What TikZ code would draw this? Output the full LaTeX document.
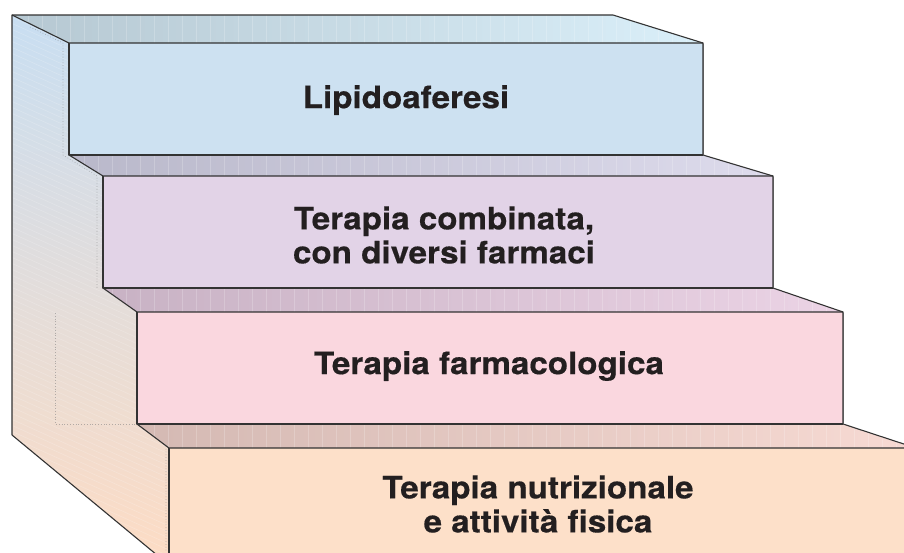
\documentclass[tikz,border=0pt]{standalone}
\usepackage{fontspec}
\newfontfamily\labfont{TeX Gyre Heros}[FakeStretch=1.07,FakeBold=0.4]
\definecolor{sideA}{HTML}{C8DEF2}
\definecolor{sideB}{HTML}{F1CFDE}
\definecolor{sideC}{HTML}{FDDCC4}
\definecolor{topAl}{HTML}{B6C8D2}
\definecolor{topAr}{HTML}{DAEFF9}
\definecolor{topBl}{HTML}{B9B8CA}
\definecolor{topBr}{HTML}{DDDBEC}
\definecolor{topCl}{HTML}{C8B2C4}
\definecolor{topCr}{HTML}{EBD3E5}
\definecolor{topDl}{HTML}{D4B9B3}
\definecolor{topDr}{HTML}{F7DAD3}
\definecolor{frA}{HTML}{CDE1F1}
\definecolor{frB}{HTML}{E2D3E7}
\definecolor{frC}{HTML}{FAD7DF}
\definecolor{frD}{HTML}{FDE0C9}
\definecolor{edge}{HTML}{333333}
\definecolor{txt}{HTML}{231F20}
\begin{document}
\begin{tikzpicture}[x=1pt,y=-1pt,line join=round,
  edgeline/.style={draw=edge,line width=1.1pt},
  stripe/.style={white,opacity=0.2,line width=0.6pt},
  hidden/.style={gray,opacity=0.55,line width=0.6pt,dash pattern=on 0.8pt off 2pt},
  lab/.style={font=\labfont\bfseries\fontsize{31}{34}\selectfont,text=txt,align=center,inner sep=0pt}]
\useasboundingbox (0,0) rectangle (904,552);
\clip (0,0) rectangle (904,552);
% side panel
\def\sidepath{(12,15) -- (69,43) -- (69,155) -- (103,176) -- (103,288) -- (137,312) -- (137,424) -- (169,448) -- (169,560) -- (163,560) -- (12,435) -- cycle}
\shade[top color=sideA, middle color=sideB, bottom color=sideC] \sidepath;
\begin{scope}
  \clip \sidepath;
  \foreach \i in {-20,...,100} \draw[stripe] (0,\i*6) -- (200,\i*6+90);
\end{scope}
\draw[hidden] (30,27) -- (63,43) -- (63,155) -- (97,176) -- (97,288);
\draw[hidden] (55,313) -- (55,424) -- (137,424);
\draw[hidden] (137,424) -- (166,446) -- (166,552);
% top faces
\def\topA{(12,15) -- (613,15) -- (703,43) -- (69,43) -- cycle}
\def\topB{(69,155) -- (703,155) -- (773,176) -- (103,176) -- cycle}
\def\topC{(103,288) -- (773,288) -- (843,312) -- (137,312) -- cycle}
\def\topD{(137,424) -- (843,424) -- (916,448) -- (169,448) -- cycle}
\shade[left color=topAl,right color=topAr] \topA;
\shade[left color=topBl,right color=topBr] \topB;
\shade[left color=topCl,right color=topCr] \topC;
\shade[left color=topDl,right color=topDr] \topD;
\begin{scope}\clip \topA; \foreach \x in {0,14,...,910} \draw[stripe] (\x,0) -- (\x,60); \end{scope}
\begin{scope}\clip \topB; \foreach \x in {0,14,...,910} \draw[stripe] (\x,150) -- (\x,180); \end{scope}
\begin{scope}\clip \topC; \foreach \x in {0,14,...,910} \draw[stripe] (\x,280) -- (\x,320); \end{scope}
\begin{scope}\clip \topD; \foreach \x in {0,14,...,920} \draw[stripe] (\x,420) -- (\x,450); \end{scope}
% front faces
\fill[frA] (69,43) rectangle (703,155);
\fill[frB] (103,176) rectangle (773,288);
\fill[frC] (137,312) rectangle (843,424);
\fill[frD] (169,448) rectangle (920,560);
% outlines
\draw[edgeline] (12,435) -- (12,15) -- (613,15) -- (703,43) -- (703,155) -- (773,176) -- (773,288) -- (843,312) -- (843,424) -- (916,448);
\draw[edgeline] (12,435) -- (163,560);
\draw[edgeline] (12,15) -- (69,43) -- (703,43);
\draw[edgeline] (69,43) -- (69,155) -- (703,155);
\draw[edgeline] (69,155) -- (103,176) -- (773,176);
\draw[edgeline] (103,176) -- (103,288) -- (773,288);
\draw[edgeline] (103,288) -- (137,312) -- (843,312);
\draw[edgeline] (137,312) -- (137,424) -- (843,424);
\draw[edgeline] (137,424) -- (169,448) -- (920,448);
\draw[edgeline] (169,448) -- (169,560);
\draw[gray!70!black,line width=1.4pt] (703.6,43.5) -- (703.6,154.5);
\draw[gray!70!black,line width=1.4pt] (773.6,176.5) -- (773.6,287.5);
\draw[gray!70!black,line width=1.4pt] (843.6,312.5) -- (843.6,423.5);
% labels
\node[lab] (l1) at (406,100) {Lipidoaferesi};
\node[lab] (l2) at (444,235) {Terapia combinata,\\con diversi farmaci};
\node[lab] (l3) at (489,366) {Terapia farmacologica};
\node[lab] (l4) at (538,504) {Terapia nutrizionale\\e attività fisica};
\end{tikzpicture}
\end{document}
